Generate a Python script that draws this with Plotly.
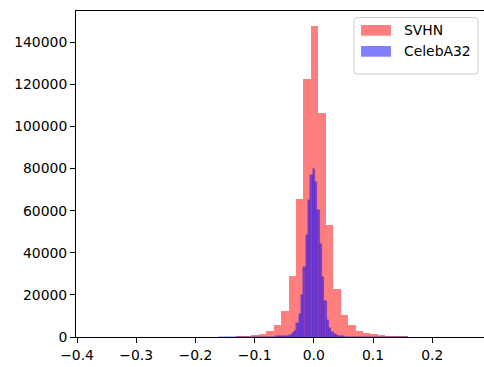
import numpy as np
import plotly.graph_objects as go

# ---------------- data ----------------
svhn_start = -0.3697
svhn_width = 0.01258
svhn_counts = [15, 15, 20, 20, 25, 25, 30, 35, 40, 45,
               50, 60, 70, 85, 100, 120, 150, 180, 220, 280,
               480,
               950, 1400, 2900, 5700, 12300, 28900, 65500, 122400, 147500,
               106300, 53200, 22900, 10400, 5500, 3000, 1900, 1500, 950,
               550, 380, 260, 190, 140, 100, 75, 55, 40, 30, 20]

celeba_start = -0.15957
celeba_width = 0.00394
celeba_counts = [10, 15, 20, 25, 30, 40, 50, 60, 70, 80,
                 90, 100, 110, 120, 130, 140, 150, 160, 170, 180,
                 190, 200, 210, 220, 240, 260, 300, 350, 430, 600,
                 950, 1900, 3000, 6600, 10900, 19900, 33400, 48400, 65000, 76900,
                 79700, 73500, 60300, 44100, 28600, 17100, 8100, 4200, 2400, 1400, 950,
                 600, 420, 300, 220, 170, 130, 100, 80, 65, 55,
                 45, 38, 32, 27, 22, 18, 15, 12, 10, 8,
                 7, 6, 5, 4, 4, 3, 3, 2, 2, 2]

series_names = ["SVHN", "CelebA32"]
series_colors = ["rgba(255,0,0,0.5)", "rgba(0,0,255,0.5)"]
series_seam_widths = [0, 0.5]

x_tick_vals = [-0.4, -0.3, -0.2, -0.1, 0.0, 0.1, 0.2]
x_tick_text = ["\u22120.4", "\u22120.3", "\u22120.2", "\u22120.1", "0.0", "0.1", "0.2"]
y_tick_vals = [0, 20000, 40000, 60000, 80000, 100000, 120000, 140000]
y_tick_text = [str(v) for v in y_tick_vals]

# ---------------- figure ----------------
W, H = 484, 367
ML, MR, MT, MB = 76, 0, 11, 30
FONT = "DejaVu Sans"
FS = 13.9


def centers(start, width, n):
    return start + width * (np.arange(n) + 0.5)


fig = go.Figure()
for name, start, width, counts, col, sw in [
    (series_names[0], svhn_start, svhn_width, svhn_counts, series_colors[0], series_seam_widths[0]),
    (series_names[1], celeba_start, celeba_width, celeba_counts, series_colors[1], series_seam_widths[1]),
]:
    fig.add_trace(go.Bar(
        x=centers(start, width, len(counts)), y=counts, width=width,
        name=name, marker=dict(color=col, line=dict(width=sw, color="rgba(0,0,255,0.4)")),
        showlegend=False, hoverinfo="skip",
    ))

axis_common = dict(
    showgrid=False, zeroline=False, showline=True, linecolor="black", linewidth=1,
    ticks="outside", ticklen=5, tickwidth=1, tickcolor="black",
    tickfont=dict(family=FONT, size=FS, color="black"),
)

fig.update_layout(
    width=W, height=H,
    margin=dict(l=ML, r=MR, t=MT, b=MB, pad=0),
    paper_bgcolor="white", plot_bgcolor="white",
    barmode="overlay", bargap=0,
    xaxis=dict(range=[-0.4017, 0.2875], tickmode="array", tickvals=x_tick_vals,
               ticktext=x_tick_text, mirror=True, **axis_common),
    yaxis=dict(range=[0, 154800], tickmode="array", tickvals=y_tick_vals,
               ticktext=y_tick_text, **axis_common),
    font=dict(family=FONT, size=FS, color="black"),
)

# ---------------- legend (drawn like matplotlib's) ----------------
pw, ph = W - ML - MR, H - MT - MB


def px(xp):
    return (xp - ML) / pw


def py(yp):
    return (H - MB - yp) / ph


x0, x1, y0, y1 = px(354), px(478), py(74), py(17.5)
rx, ry = 3 / pw, 3 / ph
path = (f"M{x0+rx},{y0} L{x1-rx},{y0} Q{x1},{y0} {x1},{y0+ry} L{x1},{y1-ry} "
        f"Q{x1},{y1} {x1-rx},{y1} L{x0+rx},{y1} Q{x0},{y1} {x0},{y1-ry} "
        f"L{x0},{y0+ry} Q{x0},{y0} {x0+rx},{y0} Z")
fig.add_shape(type="path", path=path, xref="paper", yref="paper",
              fillcolor="rgba(255,255,255,0.8)", line=dict(color="#cccccc", width=1))

rows = [(25, 35.7), (46, 56.7)]
for (top, bot), name, col in zip(rows, series_names, series_colors):
    fig.add_shape(type="rect", xref="paper", yref="paper",
                  x0=px(361), x1=px(391), y0=py(bot), y1=py(top),
                  fillcolor=col, line=dict(width=0))
    fig.add_annotation(x=px(402), y=py((top + bot) / 2), xref="paper", yref="paper",
                       text=name, showarrow=False, xanchor="left", yanchor="middle",
                       font=dict(family=FONT, size=FS, color="black"))

fig.write_html("out.html")
